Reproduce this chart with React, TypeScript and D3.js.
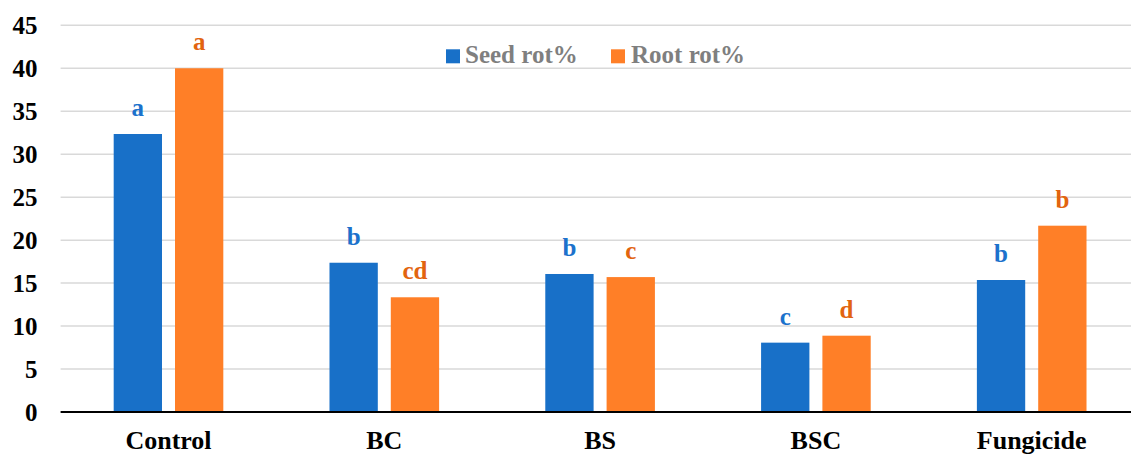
import React from "react";
import * as d3 from "d3";

const categories = ["Control", "BC", "BS", "BSC", "Fungicide"];
const seriesNames = ["Seed rot%", "Root rot%"];
const seedRot = [32.35, 17.37, 16.06, 8.07, 15.36];
const rootRot = [40.0, 13.35, 15.7, 8.88, 21.68];
const seedLetters = ["a", "b", "b", "c", "b"];
const rootLetters = ["a", "cd", "c", "d", "b"];
const yTicks = [0, 5, 10, 15, 20, 25, 30, 35, 40, 45];

const W = 1131;
const H = 455;
const barColors = ["#1870C8", "#FF7F27"];
const letterColors = ["#1C72CC", "#E2640F"];
const font = '"Liberation Serif", "Times New Roman", "DejaVu Serif", serif';
const ts = (size: number) => ({ fontFamily: font, fontSize: size + "px", fontWeight: 700 });

export default function App() {
  const x0 = 60.6;
  const step = 215.8;
  const x = d3
    .scaleBand<string>()
    .domain(categories)
    .range([x0, x0 + step * categories.length])
    .paddingInner(0.492)
    .paddingOuter(0.246);
  const xs = d3
    .scaleBand<number>()
    .domain([0, 1])
    .range([0, x.bandwidth()])
    .paddingInner(0.212)
    .paddingOuter(0);
  const y = d3.scaleLinear().domain([0, 45]).range([412, 25.3]);
  const series = [seedRot, rootRot];
  const letters = [seedLetters, rootLetters];

  return (
    <svg
      width={W}
      height={H}
      style={{ position: "absolute", left: 0, top: 0, background: "#fff" }}
    >
      <rect x={0} y={0} width={W} height={H} fill="#fff" />
      {yTicks.map((t) =>
        t === 0 ? null : (
          <line
            key={"g" + t}
            x1={x0}
            x2={W}
            y1={y(t)}
            y2={y(t)}
            stroke="#D9D9D9"
            strokeWidth={1.5}
          />
        )
      )}
      {yTicks.map((t) => (
        <text
          key={"yl" + t}
          x={37.5}
          y={y(t)}
          dy="0.35em"
          textAnchor="end"
          style={ts(25)}
          fill="#000"
        >
          {t}
        </text>
      ))}
      {categories.map((c, i) => (
        <g key={c} transform={`translate(${x(c)},0)`}>
          {series.map((s, j) => (
            <g key={j}>
              <rect
                x={xs(j)}
                y={y(s[i])}
                width={xs.bandwidth()}
                height={y(0) - y(s[i])}
                fill={barColors[j]}
              />
              <text
                x={(xs(j) as number) + xs.bandwidth() / 2}
                y={y(s[i]) - 18}
                textAnchor="middle"
                style={ts(25)}
                fill={letterColors[j]}
              >
                {letters[j][i]}
              </text>
            </g>
          ))}
          <text
            x={x.bandwidth() / 2}
            y={449}
            textAnchor="middle"
            style={ts(26)}
            fill="#000"
          >
            {c}
          </text>
        </g>
      ))}
      <line x1={x0} x2={W} y1={y(0)} y2={y(0)} stroke="#000" strokeWidth={2} />
      <g>
        <rect x={446} y={49.3} width={14} height={14} fill={barColors[0]} />
        <text x={465} y={63} style={ts(25)} fill="#7F7F7F">
          {seriesNames[0]}
        </text>
        <rect x={611} y={49.3} width={14} height={14} fill={barColors[1]} />
        <text x={631} y={63} style={ts(25)} fill="#7F7F7F">
          {seriesNames[1]}
        </text>
      </g>
    </svg>
  );
}
